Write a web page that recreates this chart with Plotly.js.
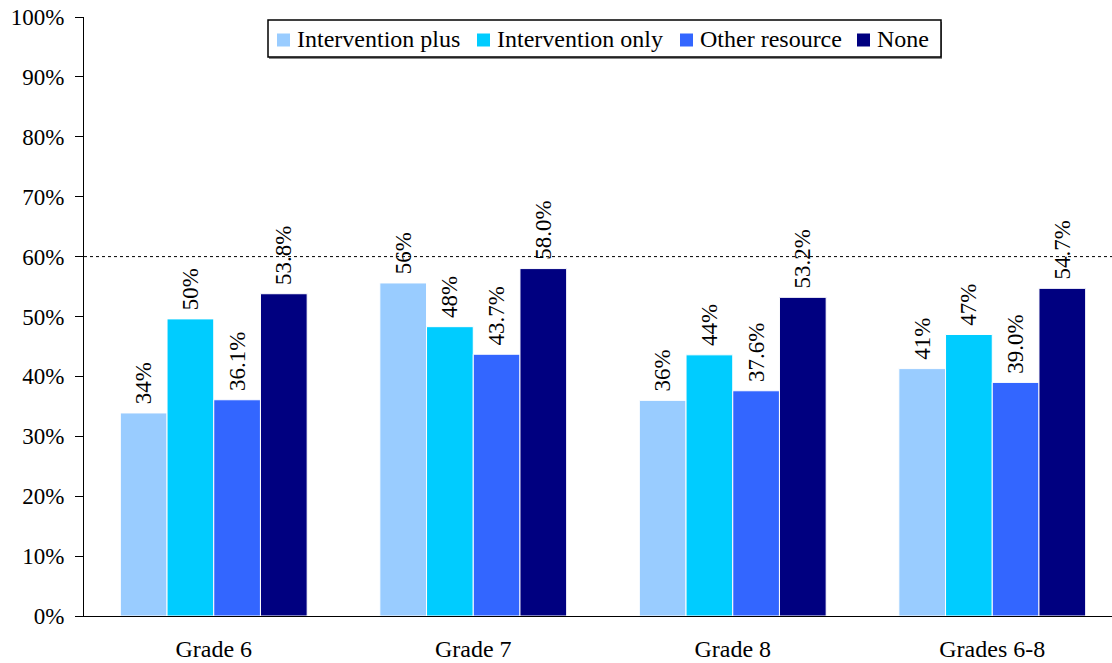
<!DOCTYPE html>
<html><head><meta charset="utf-8">
<script src="https://cdn.plot.ly/plotly-3.0.1.min.js"></script>
<style>html,body{margin:0;padding:0;overflow:hidden;background:#fff}</style>
</head><body><div id="chart"></div>
<script>
const categories = ["Grade 6", "Grade 7", "Grade 8", "Grades 6-8"];
const interventionPlus = [33.9, 55.6, 36.0, 41.3];
const interventionOnly = [49.6, 48.3, 43.6, 47.0];
const otherResource = [36.1, 43.7, 37.6, 39.0];
const noneSeries = [53.8, 58.0, 53.2, 54.7];
const seriesNames = ["Intervention plus", "Intervention only", "Other resource", "None"];
const seriesColors = ["#99ccff", "#00ccff", "#3366ff", "#000080"];
const seriesFormats = ["\u00a0%{y:.0f}%", "\u00a0%{y:.0f}%", "\u00a0%{y:.1f}%", "\u00a0%{y:.1f}%"];
const targetLine = 60;
const yTickVals = [0,10,20,30,40,50,60,70,80,90,100];
const yTickText = yTickVals.map(v => v + "%");

const font = "'Liberation Serif', 'Times New Roman', Times, serif";

// plot geometry in pixels
const W = 1130, H = 663, ML = 84, MR = 8, MT = 17, MB = 47;
const PW = W - ML - MR, PH = H - MT - MB;
const px = x => (x - ML) / PW;
const py = y => (H - MB - y) / PH;

const allSeries = [interventionPlus, interventionOnly, otherResource, noneSeries];
const traces = allSeries.map((vals, i) => ({
  type: "bar",
  name: seriesNames[i],
  x: categories,
  y: vals,
  marker: {color: seriesColors[i], line: {color: "#ffffff", width: 1}},
  texttemplate: seriesFormats[i],
  textposition: "outside",
  textangle: -90,
  constraintext: "none",
  cliponaxis: false,
  textfont: {family: font, size: 23, color: "#000"},
  hoverinfo: "skip",
  showlegend: false
}));

// manual legend (pixel layout)
const legendBox = {x0: 268, x1: 941, y0: 20, y1: 57};
const legendSquareX = [277, 477, 680, 857];
const sq = 13, legendMidY = 39;
const shapes = [
  {type: "rect", xref: "paper", yref: "paper", x0: px(legendBox.x0 + 1), x1: px(legendBox.x1 + 1),
   y0: py(legendBox.y1 + 2), y1: py(legendBox.y0 + 2), fillcolor: "#888", line: {width: 0}, layer: "above"},
  {type: "rect", xref: "paper", yref: "paper", x0: px(legendBox.x0), x1: px(legendBox.x1),
   y0: py(legendBox.y1), y1: py(legendBox.y0), fillcolor: "#fff", line: {color: "#000", width: 1.5}, layer: "above"},
  {type: "line", xref: "paper", x0: 0, x1: 1, yref: "y", y0: targetLine, y1: targetLine,
   line: {color: "#000", width: 1, dash: "dot"}, layer: "above"}
];
const annotations = [{
  text: "g,", xref: "paper", yref: "paper", x: 0.49, y: 1.035, xanchor: "center", yanchor: "bottom",
  showarrow: false, font: {family: font, size: 22, color: "#000"}
}];
seriesNames.forEach((name, i) => {
  shapes.push({type: "rect", xref: "paper", yref: "paper",
    x0: px(legendSquareX[i]), x1: px(legendSquareX[i] + sq),
    y0: py(legendMidY + sq / 2 + 1), y1: py(legendMidY - sq / 2 + 1),
    fillcolor: seriesColors[i], line: {width: 0}, layer: "above"});
  annotations.push({text: name, xref: "paper", yref: "paper",
    x: px(legendSquareX[i] + sq + 5), y: py(legendMidY), xanchor: "left", yanchor: "middle",
    showarrow: false, font: {family: font, size: 24, color: "#000"}});
});

const layout = {
  width: W, height: H,
  font: {family: font, size: 23, color: "#000"},
  margin: {l: ML, r: MR, t: MT, b: MB},
  paper_bgcolor: "#fff", plot_bgcolor: "#fff",
  barmode: "group", bargap: 0.28, bargroupgap: 0,
  showlegend: false,
  xaxis: {
    type: "category", showline: true, linecolor: "#000", linewidth: 1,
    ticks: "", showgrid: false, zeroline: false, ticklabelstandoff: 11,
    tickfont: {family: font, size: 24, color: "#000"}
  },
  yaxis: {
    range: [0, 100], tickvals: yTickVals, ticktext: yTickText,
    showline: true, linecolor: "#000", linewidth: 1,
    ticks: "outside", ticklen: 8, tickcolor: "#000", ticklabelstandoff: 6,
    showgrid: false, zeroline: false,
    tickfont: {family: font, size: 23, color: "#000"}
  },
  shapes: shapes,
  annotations: annotations
};
Plotly.newPlot("chart", traces, layout, {displayModeBar: false, staticPlot: true});
</script></body></html>
